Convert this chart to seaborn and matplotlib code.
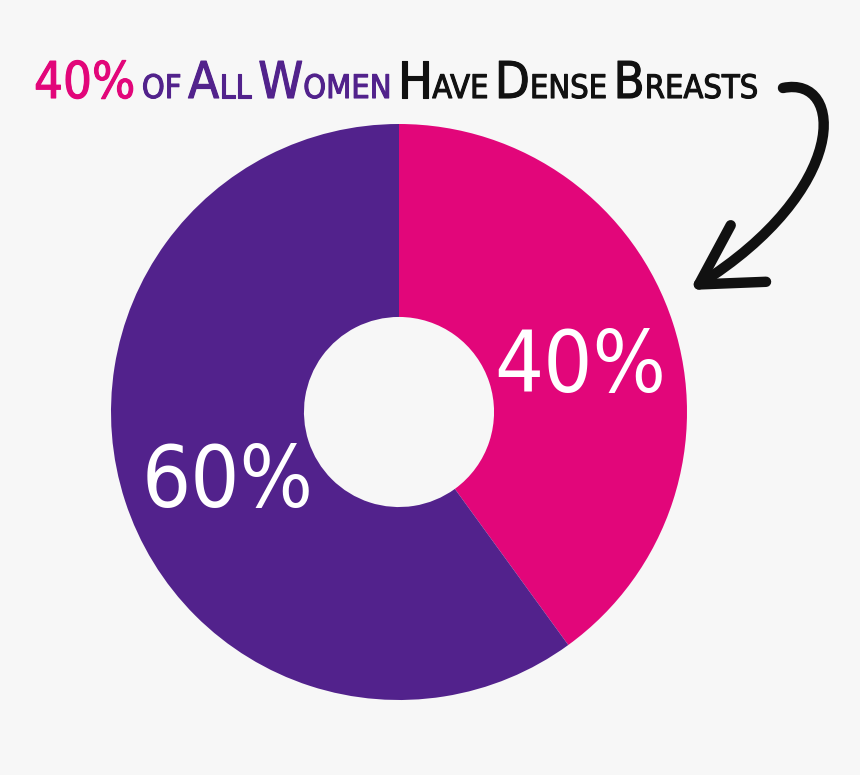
import matplotlib
matplotlib.use("Agg")
import matplotlib.pyplot as plt
import matplotlib.transforms as mtransforms
import matplotlib.patheffects as pe
import seaborn as sns
from matplotlib import font_manager as fm
from matplotlib.patches import FancyArrowPatch
from matplotlib.path import Path

# ---- data ----
categories = ["Dense breasts", "Not dense"]
values = [40, 60]
slice_colors = ["#e2067a", "#52228c"]
title_parts = [  # (text, colour, big?)
    ("40%", "#e2067a", True),
    (" ", None, None),
    ("OF", "#52228c", False),
    (" ", None, None),
    ("A", "#52228c", True), ("LL", "#52228c", False),
    (" ", None, None),
    ("W", "#52228c", True), ("OMEN", "#52228c", False),
    (" ", None, None),
    ("H", "#111111", True), ("AVE", "#111111", False),
    (" ", None, None),
    ("D", "#111111", True), ("ENSE", "#111111", False),
    (" ", None, None),
    ("B", "#111111", True), ("REASTS", "#111111", False),
]

sns.set_theme(style="white")
plt.rcParams["font.family"] = ["DejaVu Sans"]

# pick a narrow face if one is installed
cands = []
for f in fm.fontManager.ttflist:
    n = (f.fname + " " + f.name).lower()
    if ("condensed" in n or "narrow" in n) and "italic" not in n and "oblique" not in n:
        cands.append(f)
def rank(f):
    n = f.fname.lower()
    return (("bold" in n) or f.weight in ("bold", 700), "extra" in n or "ultra" in n, n)
cands.sort(key=rank)
if cands:
    NARROW = fm.FontProperties(fname=cands[0].fname)
else:
    NARROW = fm.FontProperties(family="DejaVu Sans", stretch="condensed")

W, H = 860, 775
BG = "#f7f7f7"
fig = plt.figure(figsize=(W / 100, H / 100), dpi=100, facecolor=BG)
renderer = fig.canvas.get_renderer()

def fx(x):
    return x / W

def fy(y):
    return 1 - y / H

def measure(s, size):
    t = fig.text(0, 0, s, fontproperties=NARROW, fontsize=size)
    bb = t.get_window_extent(renderer)
    t.remove()
    return bb.width

# donut: centre (399,412) px, outer radius 288 px
cx, cy, R = 399, 412, 288
ax = fig.add_axes([fx(cx - R), fy(cy + R), 2 * R / W, 2 * R / H])
ax.set_facecolor(BG)

# label size: aim for ~172 px wide
w100 = measure("40%", 100)
lab_size = 100 * 172 / w100
cap_px = 0.73 * lab_size * 100 / 72
wedges, texts, autotexts = ax.pie(
    values, colors=slice_colors, startangle=90, counterclock=False,
    radius=1, wedgeprops=dict(width=0.67, linewidth=0),
    autopct="%d%%", pctdistance=0.645,
    textprops=dict(color="white"),
)
shift = mtransforms.ScaledTranslation(5 / 100, -(6 + cap_px / 2) / 100, fig.dpi_scale_trans)
for a in autotexts:
    a.set_fontproperties(NARROW)
    a.set_fontsize(lab_size)
    a.set_va("baseline")
    a.set_transform(a.get_transform() + shift)
ax.set_xlim(-1, 1)
ax.set_ylim(-1, 1)
ax.set_aspect("equal")
ax.axis("off")

# ---- title built from pieces (small caps look) ----
big, small, gap = 50.0, 32.0, 9.0
def layout_width(scale):
    tot = 0
    for txt, col, isbig in title_parts:
        if col is None:
            tot += gap * scale
        else:
            tot += measure(txt, (big if isbig else small) * scale)
    return tot
scale = min(1.0, 725 / layout_width(1.0))
x = 34.0
base_y = 98
for txt, col, isbig in title_parts:
    if col is None:
        x += gap * scale
        continue
    t = fig.text(fx(x), fy(base_y), txt, color=col, fontproperties=NARROW,
                 fontsize=(big if isbig else small) * scale, ha="left", va="baseline",
                 path_effects=[pe.withStroke(linewidth=0.8, foreground=col)])
    bb = t.get_window_extent(renderer)
    x = bb.x1

# ---- curved arrow ----
pts = [(783, 88), (845, 75), (850, 190), (690, 290)]
path = Path([(fx(a), fy(b)) for a, b in pts],
            [Path.MOVETO, Path.CURVE4, Path.CURVE4, Path.CURVE4])
arrow = FancyArrowPatch(path=path, arrowstyle="->,head_length=0.42,head_width=0.24",
                        mutation_scale=100, color="#111111", linewidth=7.5,
                        capstyle="round", joinstyle="round",
                        transform=fig.transFigure)
fig.patches.append(arrow)

fig.savefig("out.png", dpi=100, facecolor=BG)
